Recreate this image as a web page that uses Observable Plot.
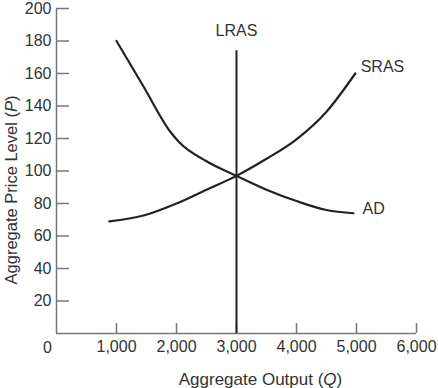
<!DOCTYPE html>
<html>
<head>
<meta charset="utf-8">
<script src="https://cdn.jsdelivr.net/npm/d3@7"></script>
<script src="https://cdn.jsdelivr.net/npm/@observablehq/plot@0.6"></script>
<style>
  html, body { margin: 0; padding: 0; background: #fff; }
  #chart svg { display: block; }
</style>
</head>
<body>
<div id="chart"></div>
<script>
// Data
const adQ = [1000, 1450, 1900, 2050, 2500, 3000, 3500, 4000, 4500, 4950];
const adP = [180, 152, 124, 117.5, 106, 97, 88.5, 81.5, 76, 74];

const srasQ = [880, 1450, 2000, 2500, 3000, 3500, 4000, 4500, 4980];
const srasP = [69, 72.6, 80, 88.5, 97, 107.5, 119.5, 136.5, 160];

const lrasQ = 3000;
const lrasTop = 174;

const xTicks = [1000, 2000, 3000, 4000, 5000, 6000];
const yTicks = [20, 40, 60, 80, 100, 120, 140, 160, 180, 200];

const topLabel = "LRAS";
const topLabelQ = 3000;
const topLabelP = 186;

const sideLabels = ["SRAS", "AD"];
const sideLabelQ = [5070, 5100];
const sideLabelP = [164, 76.5];

const xTitle = "Aggregate Output (Q)";
const yTitle = "Aggregate Price Level (P)";

const ad = adQ.map((q, i) => ({q, p: adP[i]}));
const sras = srasQ.map((q, i) => ({q, p: srasP[i]}));
const sides = sideLabels.map((t, i) => ({t, q: sideLabelQ[i], p: sideLabelP[i]}));

const axisColor = "#777";
const inkColor = "#222";
const textColor = "#333";

const chart = Plot.plot({
  width: 438,
  height: 388,
  marginLeft: 56,
  marginRight: 22,
  marginTop: 8,
  marginBottom: 55,
  style: {fontFamily: "'Liberation Sans', Arial, sans-serif", fontSize: "16px", color: textColor, background: "#fff"},
  x: {domain: [0, 6000]},
  y: {domain: [0, 200]},
  marks: [
    // axis tick labels
    Plot.axisX(xTicks, {tickSize: 0, tickPadding: 7, tickFormat: d3.format(","), label: null, fill: textColor, fontSize: 16}),
    Plot.axisY(yTicks, {tickSize: 0, tickPadding: 5, label: null, fill: textColor, fontSize: 16}),
    // inward ticks
    Plot.tickX(xTicks, {x: d => d, insetTop: 315, stroke: axisColor, strokeWidth: 1.5}),
    Plot.tickY(yTicks, {y: d => d, insetRight: 347, stroke: axisColor, strokeWidth: 1.5}),
    // axis lines
    Plot.ruleY([0], {stroke: axisColor, strokeWidth: 1.5}),
    Plot.ruleX([0], {stroke: axisColor, strokeWidth: 1.5}),
    // corner zero
    Plot.text([0], {x: d => d, y: d => d, text: d => String(d), dx: -9, dy: 14, fill: textColor, fontSize: 16}),
    // curves
    Plot.ruleX([lrasQ], {x: d => d, y1: 0, y2: lrasTop, stroke: inkColor, strokeWidth: 2}),
    Plot.line(ad, {x: "q", y: "p", curve: "monotone-x", stroke: inkColor, strokeWidth: 2.2}),
    Plot.line(sras, {x: "q", y: "p", curve: "monotone-x", stroke: inkColor, strokeWidth: 2.2}),
    // curve labels
    Plot.text([topLabel], {x: topLabelQ, y: topLabelP, textAnchor: "middle", fill: textColor, fontSize: 16}),
    Plot.text(sides, {x: "q", y: "p", text: "t", textAnchor: "start", fill: textColor, fontSize: 16}),
    // axis titles
    Plot.text([yTitle], {frameAnchor: "left", textAnchor: "middle", lineAnchor: "middle", dx: -45, dy: 19, rotate: -90, fill: textColor, fontSize: 16.5}),
    Plot.text([xTitle], {frameAnchor: "bottom", textAnchor: "middle", lineAnchor: "middle", dx: 24, dy: 46, fill: textColor, fontSize: 17})
  ]
});

// italicize the variable letters in the titles
chart.querySelectorAll("text").forEach(t => {
  const s = t.textContent;
  const m = s.match(/^(.*\()([PQ])(\))$/);
  if (m && t.children.length === 0) {
    t.textContent = "";
    const ns = "http://www.w3.org/2000/svg";
    const a = document.createElementNS(ns, "tspan"); a.textContent = m[1];
    const b = document.createElementNS(ns, "tspan"); b.textContent = m[2]; b.setAttribute("font-style", "italic");
    const c = document.createElementNS(ns, "tspan"); c.textContent = m[3];
    t.append(a, b, c);
  }
});

document.getElementById("chart").append(chart);
</script>
</body>
</html>
